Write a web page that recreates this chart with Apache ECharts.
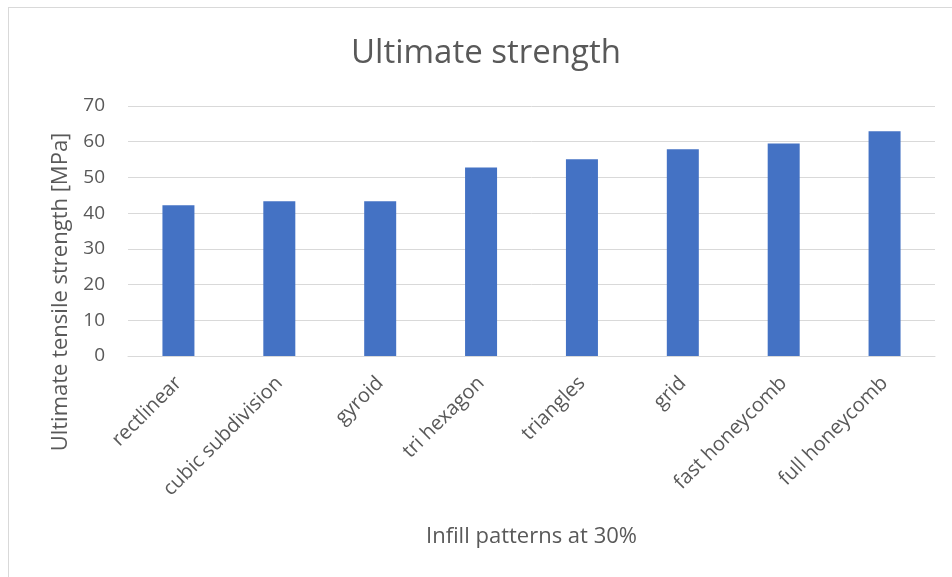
<!DOCTYPE html>
<html>
<head>
<meta charset="utf-8">
<title>Ultimate strength</title>
<script src="https://cdn.jsdelivr.net/npm/echarts@6/dist/echarts.min.js"></script>
<style>
  html, body { margin: 0; padding: 0; background: #ffffff; overflow: hidden; }
  #wrap { position: relative; width: 952px; height: 577px; }
  #chart { width: 952px; height: 577px; }
  /* chart-area frame: only its left and top edges fall inside the page */
  #frame {
    position: absolute; left: 8px; top: 7px; width: 1200px; height: 1200px;
    border-left: 1px solid #d9d9d9; border-top: 1px solid #d9d9d9;
    pointer-events: none;
  }
</style>
</head>
<body>
<div id="wrap">
  <div id="chart"></div>
  <div id="frame"></div>
</div>
<script>
// Infill patterns tested at 30% density
const categories = [
  'rectlinear', 'cubic subdivision', 'gyroid', 'tri hexagon',
  'triangles', 'grid', 'fast honeycomb', 'full honeycomb'
];
// Ultimate tensile strength per pattern [MPa]
const strengthValues = [42.2, 43.3, 43.3, 52.8, 55.1, 57.9, 59.5, 62.9];
// Value axis range
const yMin = 0;
const yMax = 70;
const yStep = 10;

const textColor = '#595959';
const fontFamily = '"Open Sans", Lato, sans-serif';

const chart = echarts.init(document.getElementById('chart'), null, { renderer: 'canvas' });

chart.setOption({
  animation: false,
  backgroundColor: '#ffffff',
  title: {
    text: 'Ultimate strength',
    left: 481,
    top: 32,
    textAlign: 'center',
    textStyle: { color: textColor, fontFamily: fontFamily, fontSize: 33, fontWeight: 'normal' }
  },
  graphic: [
    {
      type: 'text',
      silent: true,
      x: 61,
      y: 292,
      rotation: Math.PI / 2,
      style: {
        text: 'Ultimate tensile strength [MPa]',
        fill: textColor,
        font: '22px ' + fontFamily,
        align: 'center',
        verticalAlign: 'middle'
      }
    }
  ],
  grid: { left: 128, right: 17, top: 106, bottom: 221, containLabel: false },
  xAxis: {
    type: 'category',
    data: categories,
    name: 'Infill patterns at 30%',
    nameLocation: 'middle',
    nameGap: 170,
    nameTextStyle: { color: textColor, fontFamily: fontFamily, fontSize: 22 },
    axisLine: { show: true, lineStyle: { color: '#d9d9d9', width: 1 } },
    axisTick: { show: false },
    axisLabel: {
      rotate: 45,
      interval: 0,
      margin: 24,
      color: textColor,
      fontFamily: fontFamily,
      fontSize: 20
    }
  },
  yAxis: {
    type: 'value',
    min: yMin,
    max: yMax,
    interval: yStep,
    axisLine: { show: false },
    axisTick: { show: false },
    axisLabel: { color: textColor, fontFamily: fontFamily, fontSize: 19, margin: 23 },
    splitLine: { lineStyle: { color: '#d9d9d9', width: 1 } }
  },
  series: [{
    type: 'bar',
    data: strengthValues,
    barWidth: 32,
    itemStyle: { color: '#4472c4' }
  }]
});
</script>
</body>
</html>
